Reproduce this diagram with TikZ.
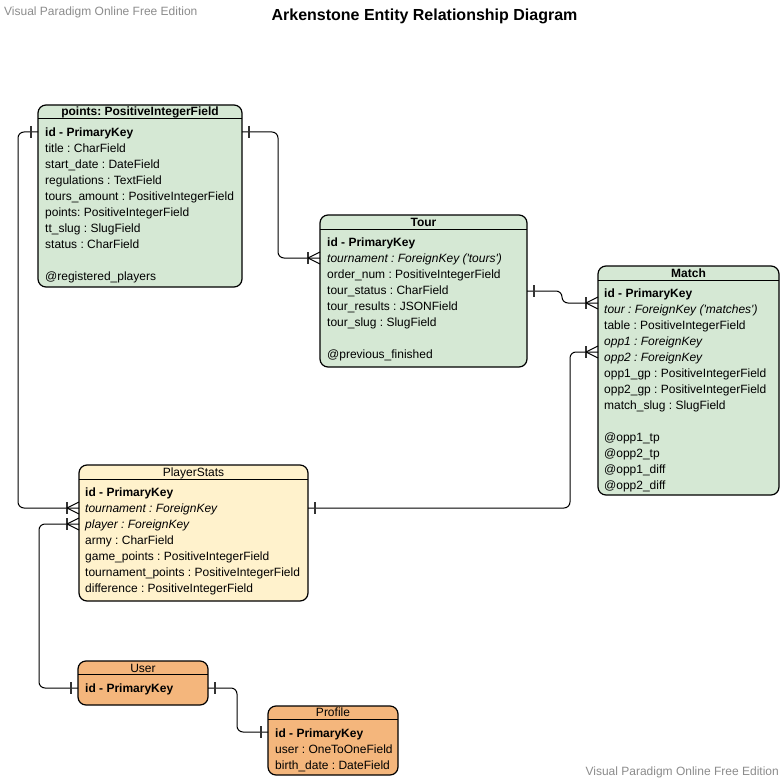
\documentclass[tikz,border=0pt]{standalone}
\usepackage{fontspec}
\setmainfont{Liberation Sans}
\usetikzlibrary{calc}
\definecolor{entgreen}{HTML}{D5E8D4}
\definecolor{entyellow}{HTML}{FFF2CC}
\definecolor{entorange}{HTML}{F4B67C}
\definecolor{wmgray}{HTML}{8C8C8C}
\frenchspacing
\newcommand{\sq}{\textquotesingle}
\begin{document}
\frenchspacing
\begin{tikzpicture}[x=1pt,y=-1pt,
 ent/.style={draw=black, line width=1.2pt, rounded corners=8pt, anchor=north west, inner sep=0pt, outer sep=0pt},
 hdrline/.style={draw=black, line width=1pt},
 hdr/.style={anchor=base, font=\fontsize{12}{14}\selectfont, inner sep=0pt},
 body/.style={anchor=north west, align=left, inner sep=0pt, font=\fontsize{12}{16}\selectfont},
 conn/.style={draw=black, line width=1pt, rounded corners=6pt},
 tickstyle/.style={draw=black!80, line width=1.4pt},
 onetick/.pic={\draw[tickstyle] (-7,-6) -- (-7,6);},
 crowfoot/.pic={\draw[tickstyle] (-12,-6) -- (-12,6); \draw[draw=black, line width=1pt] (0,-6) -- (-12,0) -- (0,6);}
]
\useasboundingbox (0,0) rectangle (784,781);
\fill[white] (0,0) rectangle (784,781);

% watermarks and title
\node[anchor=base west, text=wmgray, inner sep=0pt, font=\fontsize{12}{14}\selectfont] (wm1) at (4,16) {Visual Paradigm Online Free Edition};
\node[anchor=base east, text=wmgray, inner sep=0pt, font=\fontsize{12}{14}\selectfont] (wm2) at (779,775) {Visual Paradigm Online Free Edition};
\node[anchor=base, inner sep=0pt, font=\bfseries\fontsize{16}{18}\selectfont] (title) at (424.5,20.5) {Arkenstone Entity Relationship Diagram};

% Tournament
\node[ent, fill=entgreen, minimum width=204pt, minimum height=182pt] (trn) at (38,105) {};
\draw[hdrline] ($(trn.north west)+(0,14)$) -- ($(trn.north east)+(0,14)$);
\node[hdr] (trnH) at ($(trn.north)+(0,11)$) {\textbf{points: PositiveIntegerField}};
\node[body] (trnB) at ($(trn.north west)+(7,20.5)$) {\strut\textbf{id - PrimaryKey}\\
\strut title : CharField\\
\strut start\_date : DateField\\
\strut regulations : TextField\\
\strut tours\_amount : PositiveIntegerField\\
\strut points: PositiveIntegerField\\
\strut tt\_slug : SlugField\\
\strut status : CharField\\
\strut\\
\strut @registered\_players};

% Tour
\node[ent, fill=entgreen, minimum width=207pt, minimum height=152pt] (tour) at (320,215) {};
\draw[hdrline] ($(tour.north west)+(0,14)$) -- ($(tour.north east)+(0,14)$);
\node[hdr] (tourH) at ($(tour.north)+(0,11)$) {\textbf{Tour}};
\node[body] (tourB) at ($(tour.north west)+(7,20.5)$) {\strut\textbf{id - PrimaryKey}\\
\strut\textit{tournament : ForeignKey (\sq tours\sq)}\\
\strut order\_num : PositiveIntegerField\\
\strut tour\_status : CharField\\
\strut tour\_results : JSONField\\
\strut tour\_slug : SlugField\\
\strut\\
\strut @previous\_finished};

% Match
\node[ent, fill=entgreen, minimum width=181pt, minimum height=229pt] (match) at (598,266) {};
\draw[hdrline] ($(match.north west)+(0,14)$) -- ($(match.north east)+(0,14)$);
\node[hdr] (matchH) at ($(match.north)+(0,11)$) {\textbf{Match}};
\node[body] (matchB) at ($(match.north west)+(6,20)$) {\strut\textbf{id - PrimaryKey}\\
\strut\textit{tour : ForeignKey (\sq matches\sq)}\\
\strut table : PositiveIntegerField\\
\strut\textit{opp1 : ForeignKey}\\
\strut\textit{opp2 : ForeignKey}\\
\strut opp1\_gp : PositiveIntegerField\\
\strut opp2\_gp : PositiveIntegerField\\
\strut match\_slug : SlugField\\
\strut\\
\strut @opp1\_tp\\
\strut @opp2\_tp\\
\strut @opp1\_diff\\
\strut @opp2\_diff};

% PlayerStats
\node[ent, fill=entyellow, minimum width=229pt, minimum height=136pt] (ps) at (79,465) {};
\draw[hdrline] ($(ps.north west)+(0,14)$) -- ($(ps.north east)+(0,14)$);
\node[hdr] (psH) at ($(ps.north)+(0,11)$) {PlayerStats};
\node[body] (psB) at ($(ps.north west)+(6,20.5)$) {\strut\textbf{id - PrimaryKey}\\
\strut\textit{tournament : ForeignKey}\\
\strut\textit{player : ForeignKey}\\
\strut army : CharField\\
\strut game\_points : PositiveIntegerField\\
\strut tournament\_points : PositiveIntegerField\\
\strut difference : PositiveIntegerField};

% User
\node[ent, fill=entorange, minimum width=130pt, minimum height=44pt] (usr) at (78,661) {};
\draw[hdrline] ($(usr.north west)+(0,13)$) -- ($(usr.north east)+(0,13)$);
\node[hdr] (usrH) at ($(usr.north)+(0,11)$) {User};
\node[body] (usrB) at ($(usr.north west)+(7,20.5)$) {\strut\textbf{id - PrimaryKey}};

% Profile
\node[ent, fill=entorange, minimum width=130pt, minimum height=69pt] (pro) at (268,706) {};
\draw[hdrline] ($(pro.north west)+(0,13)$) -- ($(pro.north east)+(0,13)$);
\node[hdr] (proH) at ($(pro.north)+(0,10.5)$) {Profile};
\node[body] (proB) at ($(pro.north west)+(7,20)$) {\strut\textbf{id - PrimaryKey}\\
\strut user : OneToOneField\\
\strut birth\_date : DateField};

% connector end points
\coordinate (trnL) at (trn.west |- 0,132);
\coordinate (trnR) at (trn.east |- 0,132);
\coordinate (tourA) at (tour.west |- 0,258);
\coordinate (tourB) at (tour.east |- 0,291);
\coordinate (matA) at (match.west |- 0,303);
\coordinate (matB) at (match.west |- 0,352);
\coordinate (psA) at (ps.west |- 0,508);
\coordinate (psB) at (ps.east |- 0,508);
\coordinate (psC) at (ps.west |- 0,524);
\coordinate (usrA) at (usr.west |- 0,688);
\coordinate (usrB) at (usr.east |- 0,688);
\coordinate (proA) at (pro.west |- 0,732);

% connectors
\draw[conn] (trnL) -- ++(-20,0) |- (psA);
\draw[conn] (trnR) -- ++(36,0) |- (tourA);
\draw[conn] (tourB) -- ++(35,0) |- (matA);
\draw[conn] (psB) -- ++(262,0) |- (matB);
\draw[conn] (usrA) -- ++(-39,0) |- (psC);
\draw[conn] (usrB) -- ++(29,0) |- (proA);

% end marks
\pic at (trnL) {onetick};
\pic[xscale=-1] at (trnR) {onetick};
\pic at (tourA) {crowfoot};
\pic[xscale=-1] at (tourB) {onetick};
\pic at (matA) {crowfoot};
\pic at (matB) {crowfoot};
\pic at (psA) {crowfoot};
\pic[xscale=-1] at (psB) {onetick};
\pic at (psC) {crowfoot};
\pic at (usrA) {onetick};
\pic[xscale=-1] at (usrB) {onetick};
\pic at (proA) {onetick};
\end{tikzpicture}
\end{document}
